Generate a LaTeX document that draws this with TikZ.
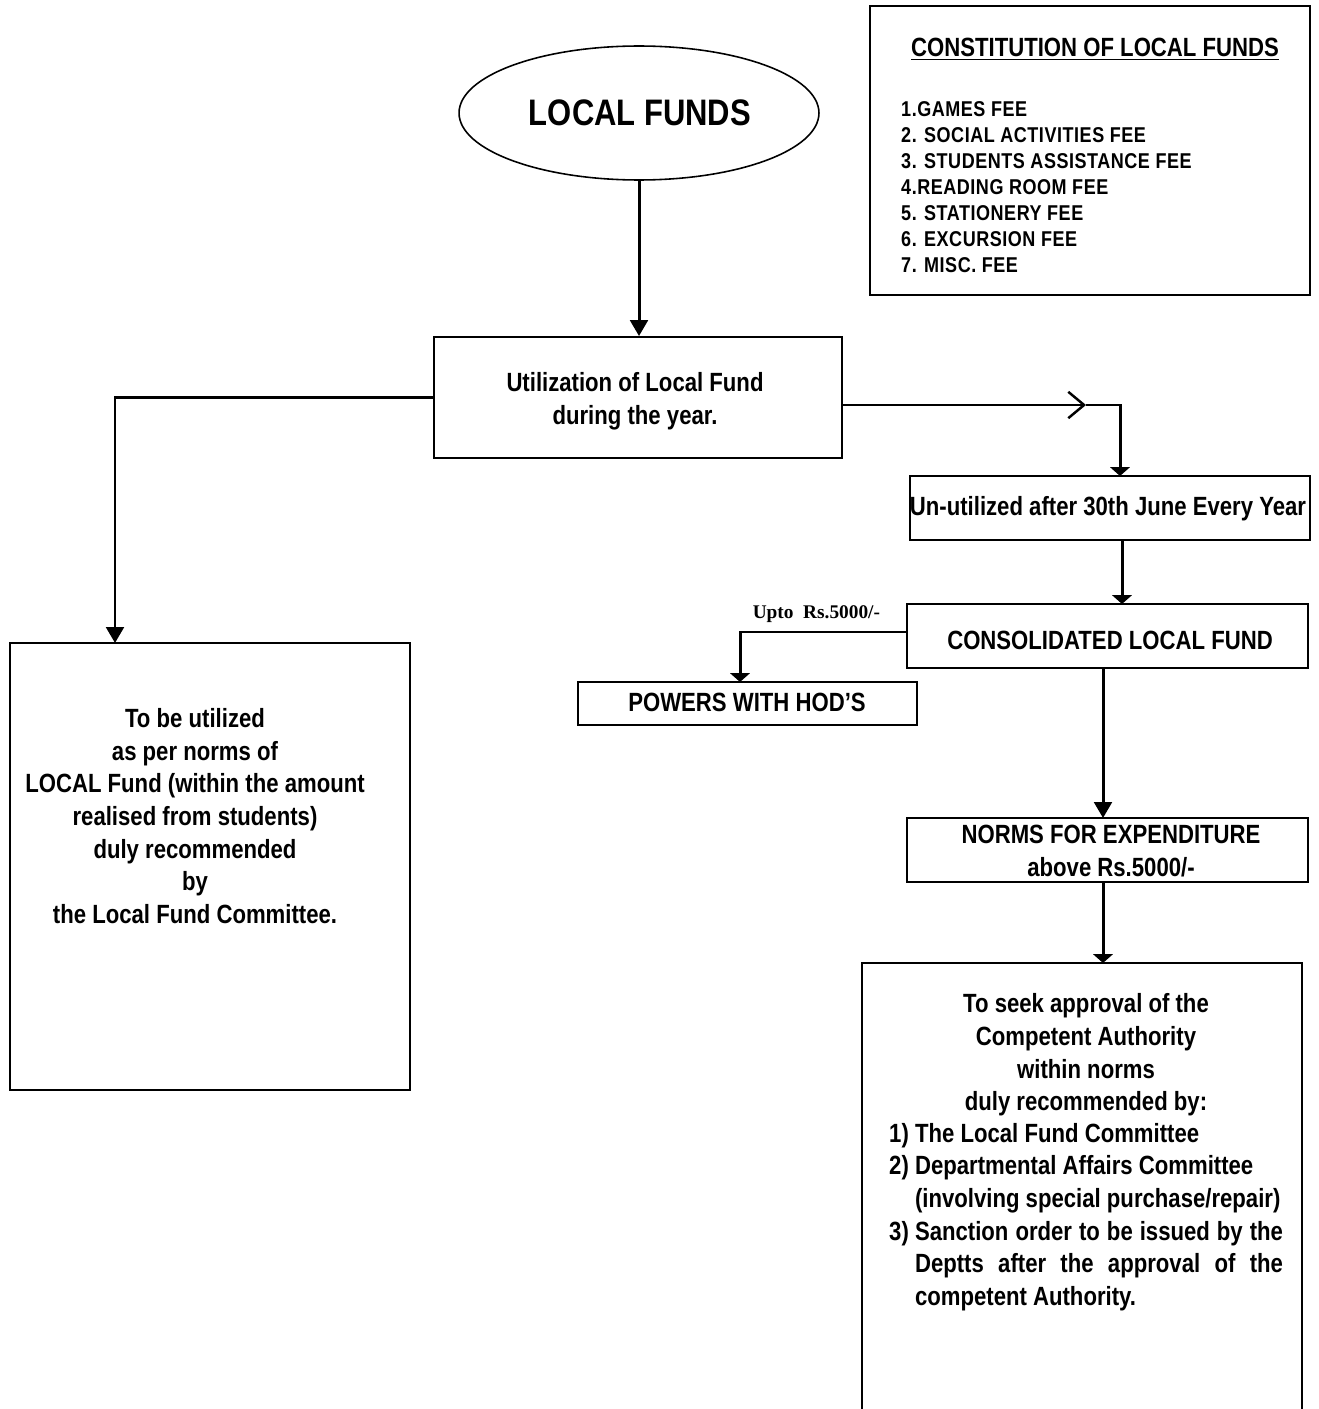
\documentclass[tikz,border=0pt]{standalone}
\usepackage{fontspec}
\setmainfont[FakeStretch=0.84]{Liberation Sans}
\newfontfamily\labelfont{Liberation Serif}
\usetikzlibrary{shapes.geometric,arrows.meta,positioning}

\begin{document}
\begin{tikzpicture}
  [x=0.02cm,y=-0.02cm,
  box/.style={draw,line width=1.1pt,inner sep=0pt},
  t/.style={font=\bfseries\fontsize{15}{18.6}\selectfont,align=center},
  flow/.style={line width=1.7pt},
  arr/.style={flow,-{Triangle[length=9pt,width=10pt]}},
  flat/.style={flow,-{Triangle[length=5pt,width=11pt]}}]

  \useasboundingbox (0,0) rectangle (1318,1409);
  \clip (0,0) rectangle (1318,1409);

  % boxes
  \node[draw,line width=0.9pt,ellipse,minimum width=7.2cm,minimum height=2.68cm] (lf) at (639,113) {};
  \node[t,font=\bfseries\fontsize{21}{24}\selectfont] at (640,113) {LOCAL FUNDS};

  \node[box,minimum width=8.8cm,minimum height=5.78cm] (const) at (1090,150.5) {};
  \node[t,font=\bfseries\fontsize{15}{18}\selectfont] at (1095,49) {\underline{CONSTITUTION OF LOCAL FUNDS}};
  \node[t,align=left,anchor=west,font=\bfseries\fontsize{12.2}{14.8}\selectfont\addfontfeature{LetterSpace=2.5}] at (895,187)
    {1.GAMES FEE\\
     2. SOCIAL ACTIVITIES FEE\\
     3. STUDENTS ASSISTANCE FEE\\
     4.READING ROOM FEE\\
     5. STATIONERY FEE\\
     6. EXCURSION FEE\\
     7. MISC. FEE};

  \node[box,minimum width=8.16cm,minimum height=2.42cm] (util) at (638,397.5) {};
  \node[t] at (635,401) {Utilization of Local Fund\\during the year.};

  \node[box,minimum width=8.0cm,minimum height=8.94cm] (left) at (210,866.5) {};
  \node[t] at (195,816) {To be utilized\\
    as per norms of\\
    LOCAL Fund (within the amount\\
    realised from students)\\
    duly recommended\\
    by\\
    the Local Fund Committee.};

  \node[box,minimum width=8.0cm,minimum height=1.28cm] (unused) at (1110,508) {};
  \node[t] at (1108,509) {Un-utilized after 30th June Every Year};

  \node[box,minimum width=8.02cm,minimum height=1.28cm] (consol) at (1107.5,636) {};
  \node[t] at (1110,640) {CONSOLIDATED LOCAL FUND};

  \node[box,minimum width=6.78cm,minimum height=0.86cm] (hod) at (747.5,703.5) {};
  \node[t] at (747,702) {POWERS WITH HOD'S};

  \node[box,minimum width=8.02cm,minimum height=1.28cm] (norms) at (1107.5,850) {};
  \node[t] at (1111,851) {NORMS FOR EXPENDITURE\\above Rs.5000/-};

  \node[box,minimum width=8.8cm,minimum height=10cm] (appr) at (1082,1213) {};
  \node[t] at (1086,1055) {To seek approval of the\\
    Competent Authority\\
    within norms\\
    duly recommended by:};
  \node[t,align=left,anchor=west] at (883,1217)
    {1)~The Local Fund Committee\\
     2)~Departmental Affairs Committee\\
     \phantom{2)~}(involving special purchase/repair)\\
     3)~\makebox[7.36cm][s]{Sanction order to be issued by the}\\
     \phantom{3)~}\makebox[7.36cm][s]{Deptts after the approval of the}\\
     \phantom{3)~}competent Authority.};

  % connectors
  \coordinate (lin) at (115,643);
  \coordinate (bend) at (1086,405);
  \coordinate (uin) at (1120,476);
  \coordinate (cin) at (1122,604);
  \coordinate (hin) at (740,682);
  \coordinate (nin) at (1103,818);
  \coordinate (ain) at (1103,963);

  \draw[arr] (lf.south) -- (lf.south |- util.north);
  \draw[arr] (util.west) -| (lin);
  \draw[flow,-{Straight Barb[length=9pt,width=15pt,line width=1.4pt]}] (util.east |- bend) -- (bend);
  \draw[flat] (bend) -| (uin);
  \draw[flat] (unused.south -| cin) -- (cin);
  \draw[flat] (consol.west |- 0,632) -| (hin)
    node[pos=0.27,above=1pt,font=\labelfont\bfseries\fontsize{11}{12}\selectfont] (upto) {Upto\ \ Rs.5000/-};
  \draw[arr] (consol.south -| nin) -- (nin);
  \draw[flat] (norms.south -| ain) -- (ain);

\end{tikzpicture}
\end{document}
